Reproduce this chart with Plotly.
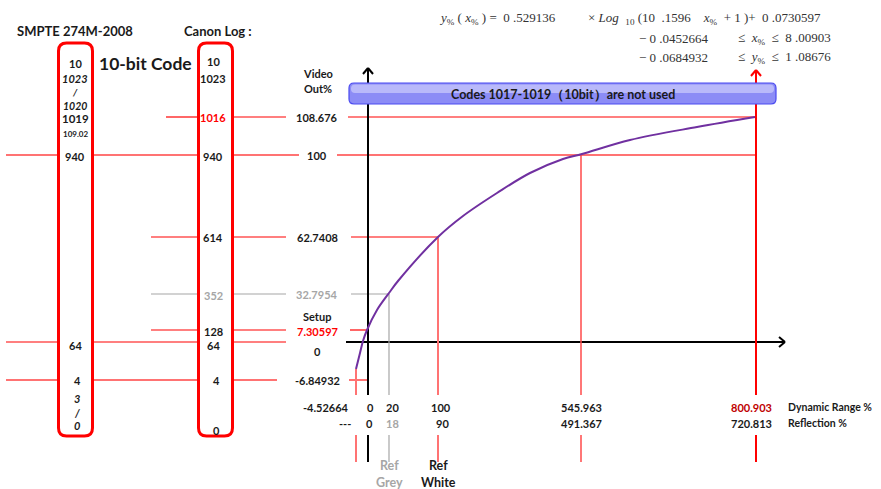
import plotly.graph_objects as go

W, H = 881, 489

# ---------------- data (values / labels) ----------------
canon_codes = ["1016", "940", "614", "352", "128", "64", "4"]
video_out = ["108.676", "100", "62.7408", "32.7954", "7.30597", "0", "-6.84932"]
dynamic_range = ["-4.52664", "0", "20", "100", "545.963", "800.903"]
reflection = ["---", "0", "18", "90", "491.367", "720.813"]
smpte_top = ["10", "1023", "/", "1020", "1019", "109.02", "940"]
smpte_bottom = ["64", "4", "3", "/", "0"]
canon_top = ["10", "1023"]
canon_bottom = ["0"]
# curve samples (diagram coordinates)
curve_x = [356, 360, 363, 367, 377, 389, 398, 438, 463, 497, 530, 563, 582, 630, 697, 755]
curve_y = [369, 353, 341, 330, 310, 293, 281, 237, 216, 193, 173, 159, 154, 140, 127, 117]

# ---------------- layout positions (diagram coordinates) ----------------
level_y = [117, 155, 237, 294, 330, 342, 380]
code_lbl_y = [117, 156, 237, 295, 331, 345, 380]
vo_lbl_y = [117, 155, 237, 294, 331, 351, 380]
col_x = [356, 368, 389, 438, 581, 756]
dr_lbl_x = [326, 370, 392, 441, 581, 751]
rf_lbl_x = [345, 369, 392, 442, 581, 751]

RED = "#ff0000"
SAL = "#ff7373"
GRY = "#a6a6a6"
DARK = "#1a1a1a"
FONT = "Lato"

level_color = [RED, SAL, RED, GRY, RED, RED, SAL]
level_width = [1.2, 2, 1.2, 1.2, 1.2, 1.2, 2]
level_segments = [
    [(166, 197), (234, 286), (348, 757)],
    [(6, 57), (93, 197), (234, 299), (337, 756)],
    [(151, 197), (234, 286), (351, 438)],
    [(151, 197), (234, 286), (351, 389)],
    [(151, 197), (234, 286), (350, 368)],
    [(6, 57), (93, 197), (234, 286)],
    [(6, 57), (93, 197), (234, 277), (349, 367)],
]
code_lbl_color = [RED, DARK, DARK, GRY, DARK, DARK, DARK]
vo_lbl_color = [DARK, DARK, DARK, GRY, RED, DARK, DARK]

col_color = [SAL, "black", GRY, SAL, "#ff4a4a", RED]
col_width = [2, 2, 1.2, 2, 1.5, 2]
col_top = [369, 68, 294, 237, 155, 70]
dr_lbl_color = [DARK, DARK, DARK, DARK, DARK, "#c00000"]
rf_lbl_color = [DARK, DARK, GRY, DARK, DARK, DARK]

shapes = []
ann = []


def seg(x0, y0, x1, y1, color, width):
    shapes.append(dict(type="line", xref="x", yref="y", x0=x0, y0=y0, x1=x1, y1=y1,
                       line=dict(color=color, width=width), layer="below"))


def text(x, y, s, size=11, color=DARK, bold=True, anchor="center", family=FONT, italic=False):
    ann.append(dict(x=x, y=y, xref="x", yref="y", text=s, showarrow=False,
                    xanchor=anchor, yanchor="middle", borderpad=0,
                    font=dict(family=family, size=size, color=color,
                              weight="bold" if bold else "normal",
                              style="italic" if italic else "normal")))


def rrect(x0, y0, x1, y1, r):
    return (f"M {x0+r},{y0} L {x1-r},{y0} Q {x1},{y0} {x1},{y0+r} L {x1},{y1-r} "
            f"Q {x1},{y1} {x1-r},{y1} L {x0+r},{y1} Q {x0},{y1} {x0},{y1-r} "
            f"L {x0},{y0+r} Q {x0},{y0} {x0+r},{y0} Z")


# horizontal level lines
for i, y in enumerate(level_y):
    for a, b in level_segments[i]:
        seg(a, y, b, y, level_color[i], level_width[i])

# x axis with arrow
seg(346, 342, 785, 342, "black", 2)
seg(779, 337, 785, 342, "black", 2)
seg(779, 347, 785, 342, "black", 2)

# vertical columns
for i, x in enumerate(col_x):
    seg(x, col_top[i], x, 395, col_color[i], col_width[i])
    seg(x, 435, x, 462, col_color[i], col_width[i])
# arrow heads on y axis and red limit line
seg(363, 74, 368, 68, "black", 2)
seg(373, 74, 368, 68, "black", 2)
seg(751, 76, 756, 70, RED, 2)
seg(761, 76, 756, 70, RED, 2)

# code boxes
shapes.append(dict(type="path", xref="x", yref="y", path=rrect(58.5, 43, 92.5, 436, 8),
                   line=dict(color=RED, width=3), fillcolor="rgba(0,0,0,0)"))
shapes.append(dict(type="path", xref="x", yref="y", path=rrect(198.5, 43, 232.5, 436, 8),
                   line=dict(color=RED, width=3), fillcolor="rgba(0,0,0,0)"))

# blue banner (layered to mimic gradient)
shapes.append(dict(type="path", xref="x", yref="y", path=rrect(349, 83, 776, 104, 5),
                   line=dict(color="#4a4af0", width=1.2), fillcolor="#8c8cf6", layer="below"))
shapes.append(dict(type="path", xref="x", yref="y", path=rrect(351, 84.5, 774, 93, 4),
                   line=dict(width=0), fillcolor="#b9b9fa", layer="below"))

# titles
text(75, 31, "SMPTE 274M-2008", size=13)
text(218, 31, "Canon Log :", size=13)
text(145, 63, "10-bit Code", size=17.5)
text(318, 73, "Video", size=11)
text(318, 88, "Out%", size=11)
text(563, 94, "Codes 1017-1019（10bit）are not used", size=12.5)

# SMPTE column
smpte_top_y = [63, 78, 92, 106, 118, 134, 156]
smpte_top_it = [False, True, True, True, False, False, False]
smpte_top_sz = [11, 11, 10, 10.5, 11.5, 8, 11]
for i, s in enumerate(smpte_top):
    text(75, smpte_top_y[i], s, size=smpte_top_sz[i], italic=smpte_top_it[i])
smpte_bot_y = [345, 380, 398, 412, 425]
smpte_bot_it = [False, False, True, True, True]
for i, s in enumerate(smpte_bottom):
    text(75 if i == 0 else 77, smpte_bot_y[i], s, size=11, italic=smpte_bot_it[i])

# Canon column
for i, s in enumerate(canon_top):
    text(213, [61, 78][i], s, size=11)
for i, s in enumerate(canon_codes):
    text(213 if i != 6 else 216, code_lbl_y[i], s, size=11, color=code_lbl_color[i])
text(216, 430, canon_bottom[0], size=11)

# video out labels
for i, s in enumerate(video_out):
    text(317, vo_lbl_y[i], s, size=11, color=vo_lbl_color[i])
text(317, 316, "Setup", size=11)

# dynamic range / reflection labels
for i, s in enumerate(dynamic_range):
    text(dr_lbl_x[i], 407, s, size=11, color=dr_lbl_color[i])
for i, s in enumerate(reflection):
    text(rf_lbl_x[i], 423, s, size=11, color=rf_lbl_color[i])
text(787, 407, "Dynamic Range %", size=10.5, anchor="left")
text(787, 423, "Reflection %", size=10.5, anchor="left")
text(389, 465, "Ref", size=12.5, color=GRY)
text(389, 482, "Grey", size=12.5, color=GRY)
text(438, 465, "Ref", size=12.5)
text(438, 482, "White", size=12.5)

# equation
SER = "Liberation Serif"
text(438, 18, "<i>y</i><sub>%</sub> ( <i>x</i><sub>%</sub> ) =  0 .529136", size=13,
     bold=False, anchor="left", family=SER, color="#333")
text(587, 18, "× <i>Log</i>  <sub>10</sub> (10  .1596    <i>x</i><sub>%</sub>  + 1 )+  0 .0730597",
     size=13, bold=False, anchor="left", family=SER, color="#333")
text(638, 38, "− 0 .0452664", size=13, bold=False, anchor="left", family=SER, color="#333")
text(737, 38, "≤  <i>x</i><sub>%</sub>  ≤  8 .00903", size=13, bold=False, anchor="left",
     family=SER, color="#333")
text(638, 57, "− 0 .0684932", size=13, bold=False, anchor="left", family=SER, color="#333")
text(737, 57, "≤  <i>y</i><sub>%</sub>  ≤  1 .08676", size=13, bold=False, anchor="left",
     family=SER, color="#333")

fig = go.Figure()
fig.add_trace(go.Scatter(x=curve_x, y=curve_y, mode="lines",
                         line=dict(color="#7030a0", width=2, shape="spline", smoothing=1.0),
                         hoverinfo="skip", showlegend=False))

fig.update_layout(
    width=W, height=H, margin=dict(l=0, r=0, t=0, b=0),
    paper_bgcolor="white", plot_bgcolor="white",
    xaxis=dict(range=[0, W], visible=False, fixedrange=True),
    yaxis=dict(range=[H, 0], visible=False, fixedrange=True),
    shapes=shapes, annotations=ann, showlegend=False,
)

fig.write_html("out.html", config={"displayModeBar": False},
               post_script="document.body.style.margin='0';document.body.style.overflow='hidden';")
